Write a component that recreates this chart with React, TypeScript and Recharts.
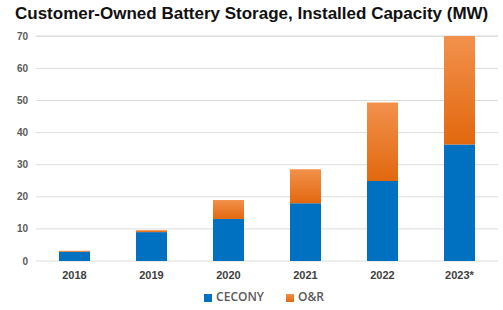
import React from "react";
import { BarChart, Bar, XAxis, YAxis, CartesianGrid, Legend } from "recharts";

const YEARS = ["2018", "2019", "2020", "2021", "2022", "2023*"];
const CECONY = [2.9, 9.0, 13.1, 18.0, 24.9, 36.3];
const OR = [0.3, 0.6, 5.9, 10.6, 24.5, 33.8];
const Y_TICKS = [0, 10, 20, 30, 40, 50, 60, 70];

const data = YEARS.map((year, i) => ({ year, CECONY: CECONY[i], "O&R": OR[i] }));

const FONT = "'Liberation Sans', Arial, sans-serif";

export default function App() {
  return (
    <div
      style={{
        position: "absolute",
        left: 0,
        top: 0,
        width: 503,
        height: 310,
        background: "#fff",
        fontFamily: FONT,
      }}
    >
      <div
        style={{
          position: "absolute",
          left: 15,
          top: 4,
          fontSize: 17,
          fontWeight: "bold",
          color: "#111",
          whiteSpace: "nowrap",
        }}
      >
        Customer-Owned Battery Storage, Installed Capacity (MW)
      </div>
      <BarChart
        width={503}
        height={310}
        data={data}
        margin={{ top: 36, right: 5, left: 0, bottom: 0 }}
        barCategoryGap="30%"
      >
        <defs>
          <linearGradient id="orGrad" x1="0" y1="0" x2="0" y2="1">
            <stop offset="0%" stopColor="#F2914C" />
            <stop offset="100%" stopColor="#E2680E" />
          </linearGradient>
        </defs>
        <CartesianGrid vertical={false} stroke="#dcdcdc" />
        <XAxis
          dataKey="year"
          axisLine={false}
          tickLine={false}
          height={22}
          tick={{ fontSize: 11, fontWeight: "bold", fill: "#404040", fontFamily: FONT }}
          tickMargin={4}
        />
        <YAxis
          width={36}
          domain={[0, 70]}
          ticks={Y_TICKS}
          axisLine={false}
          tickLine={false}
          tickMargin={2}
          tick={{ fontSize: 10, fontWeight: "bold", fill: "#595959", fontFamily: FONT }}
        />
        <Legend
          height={27}
          iconType="square"
          iconSize={8}
          wrapperStyle={{
            fontSize: 12,
            fontFamily: "'Open Sans', sans-serif",
            paddingLeft: 26,
            top: 288,
            bottom: "auto",
          }}
          formatter={(v) => (
            <span style={{ color: "#595959", fontWeight: 600, marginRight: 12 }}>{v}</span>
          )}
        />
        <Bar dataKey="CECONY" stackId="a" fill="#0070C0" barSize={31} isAnimationActive={false} />
        <Bar dataKey="O&R" stackId="a" fill="url(#orGrad)" barSize={31} isAnimationActive={false} />
      </BarChart>
    </div>
  );
}
